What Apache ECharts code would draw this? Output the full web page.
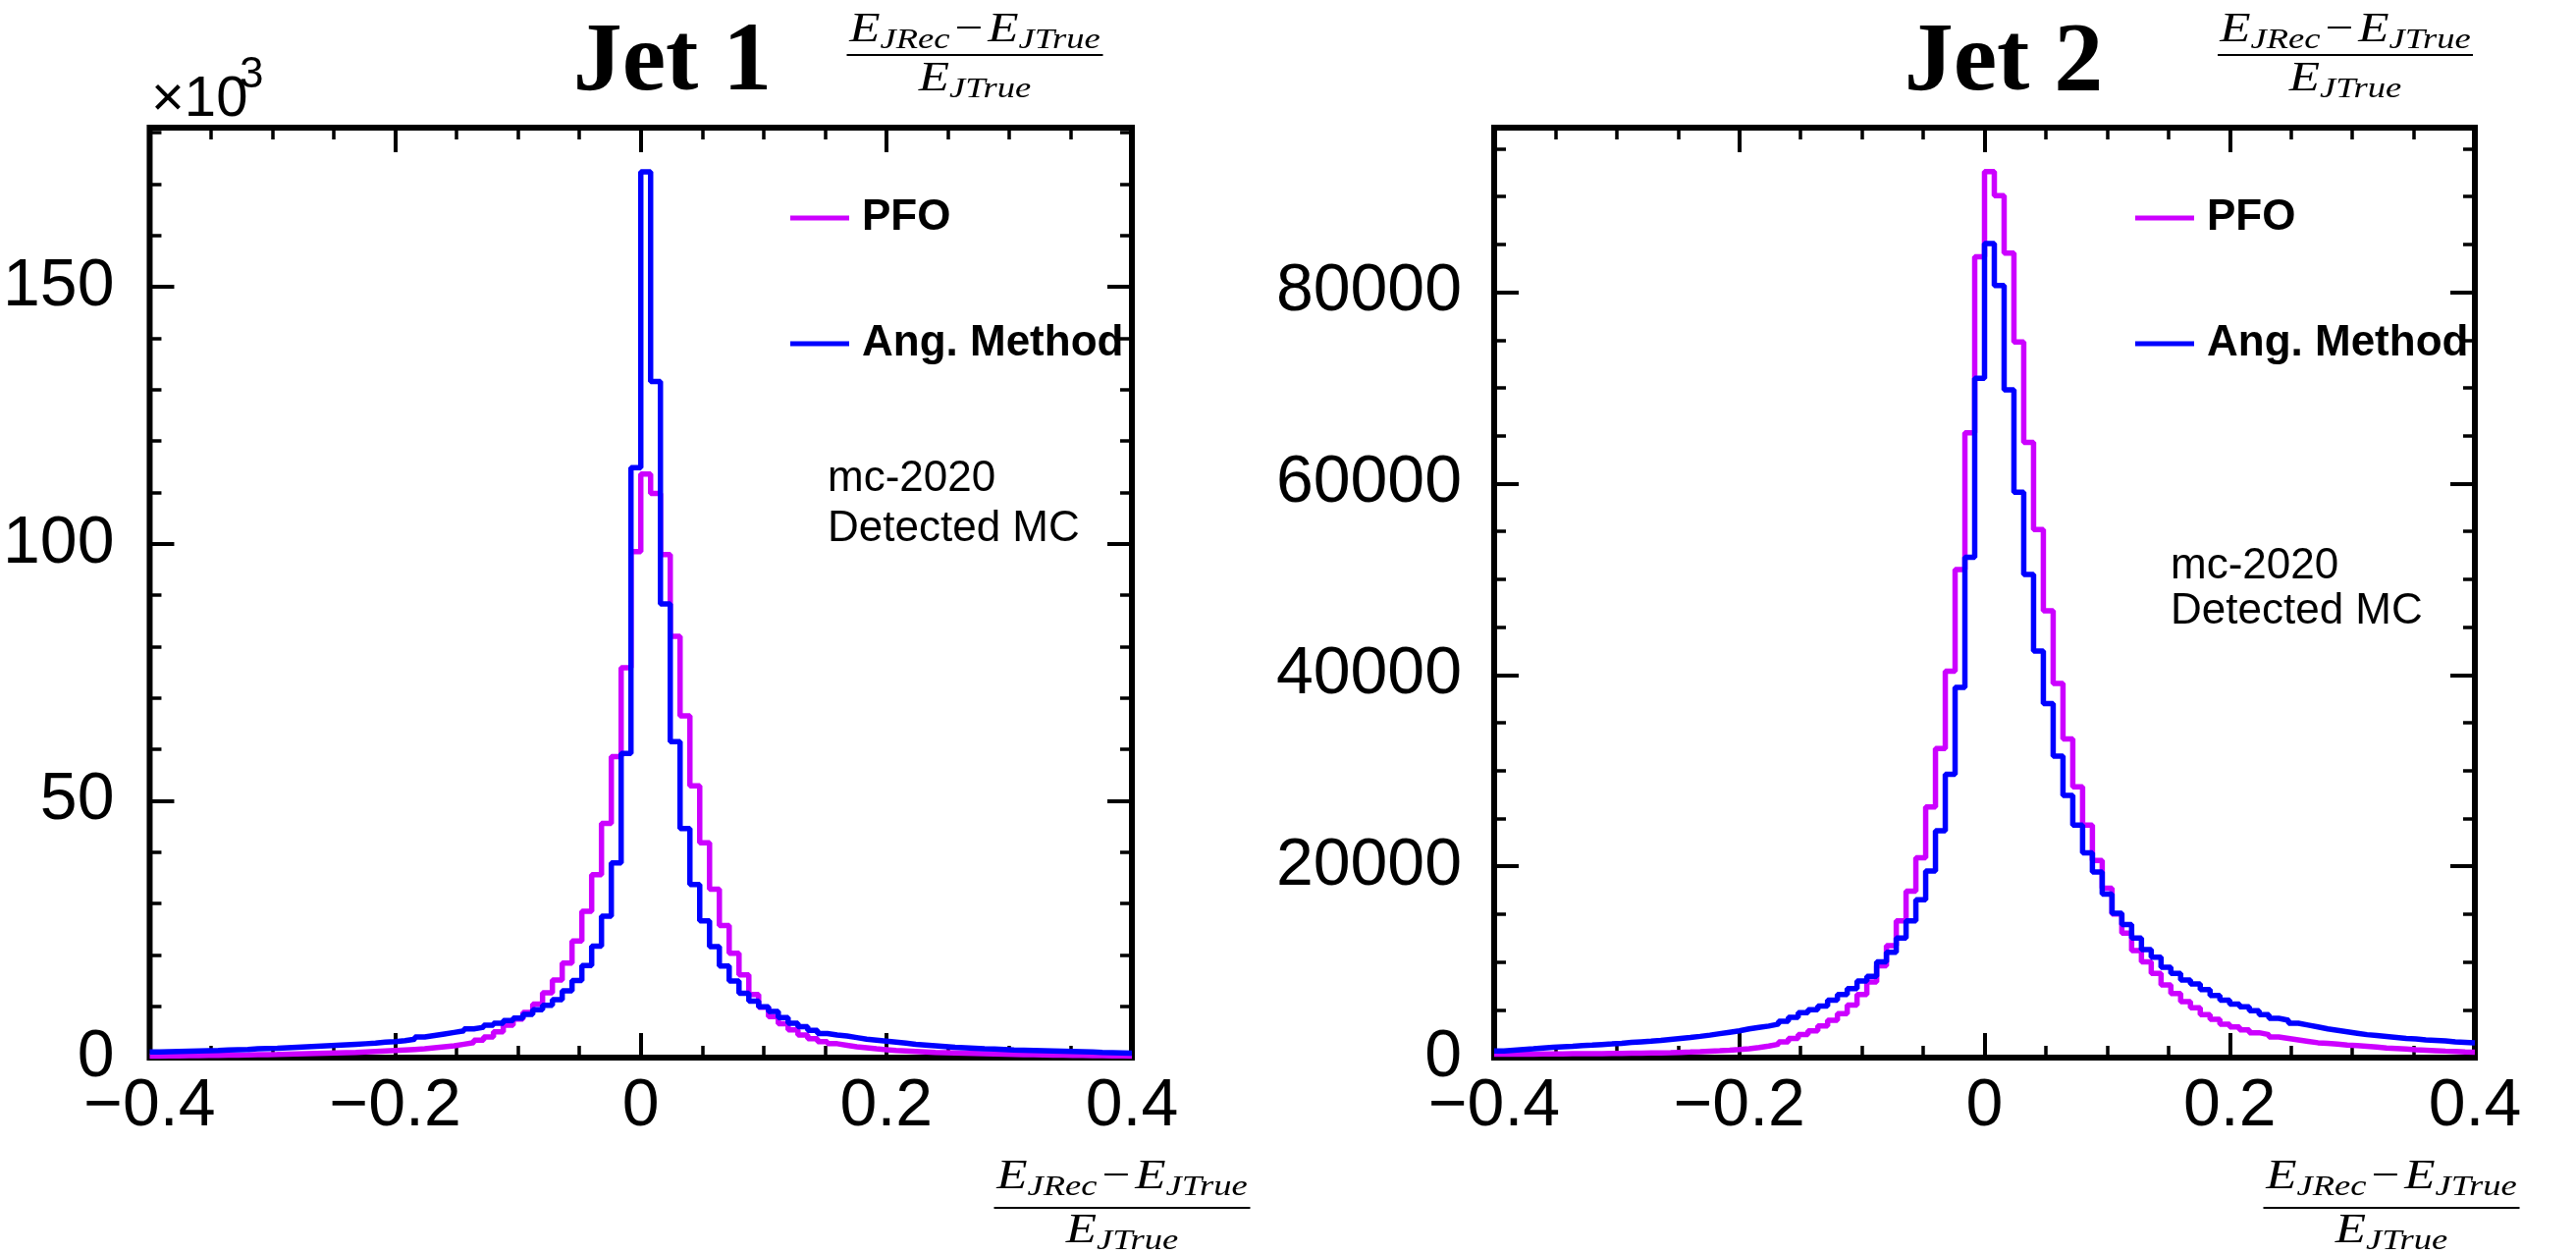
<!DOCTYPE html>
<html>
<head>
<meta charset="utf-8">
<script src="https://cdn.jsdelivr.net/npm/echarts@6/dist/echarts.min.js"></script>
<style>
  html, body { margin: 0; padding: 0; background: #fff; }
  #chart { width: 2624px; height: 1277px; }
</style>
</head>
<body>
<div id="chart"></div>
<script>
// histogram binning: 100 bins of 0.008 over [-0.4, 0.4]
const binLow = -0.4;
const binWidth = 0.008;

// Jet 1, entries in units of 10^3
const jet1PFO = [
  0.30, 0.33, 0.35, 0.38, 0.40, 0.43, 0.45, 0.48, 0.50, 0.52,
  0.55, 0.58, 0.60, 0.65, 0.70, 0.75, 0.80, 0.85, 0.90, 0.95,
  1.0, 1.1, 1.2, 1.3, 1.4, 1.5, 1.6, 1.7, 1.9, 2.1,
  2.3, 2.6, 2.9, 3.4, 4.0, 5.0, 6.3, 7.5, 8.8, 10.4,
  12.6, 15.1, 18.4, 22.7, 28.5, 35.6, 45.6, 58.6, 75.9, 98.5,
  113.6, 109.8, 97.9, 82.0, 66.5, 52.9, 41.8, 32.8, 25.7, 20.3,
  16.1, 12.3, 9.8, 8.0, 6.6, 5.4, 4.4, 3.7, 3.1, 2.7,
  2.4, 2.1, 1.9, 1.7, 1.55, 1.4, 1.3, 1.2, 1.1, 1.0,
  0.95, 0.9, 0.85, 0.8, 0.75, 0.7, 0.66, 0.62, 0.58, 0.55,
  0.52, 0.49, 0.46, 0.44, 0.42, 0.40, 0.38, 0.35, 0.33, 0.30
];
const jet1Ang = [
  1.10, 1.15, 1.20, 1.25, 1.30, 1.35, 1.40, 1.50, 1.55, 1.60,
  1.70, 1.75, 1.80, 1.90, 2.00, 2.10, 2.20, 2.30, 2.40, 2.50,
  2.60, 2.70, 2.80, 3.00, 3.10, 3.30, 3.60, 4.00, 4.30, 4.60,
  4.90, 5.20, 5.60, 5.90, 6.30, 6.70, 7.20, 7.70, 8.40, 9.30,
  10.2, 11.3, 13.0, 15.0, 17.9, 21.7, 27.5, 37.9, 59.2, 114.8,
  172.4, 131.6, 88.3, 61.5, 44.6, 33.7, 26.6, 21.6, 17.8, 14.9,
  12.5, 11.0, 9.9, 9.0, 7.8, 6.7, 6.0, 5.3, 4.7, 4.4,
  4.2, 3.9, 3.6, 3.4, 3.2, 3.0, 2.8, 2.6, 2.45, 2.3,
  2.15, 2.0, 1.9, 1.8, 1.7, 1.65, 1.6, 1.5, 1.45, 1.4,
  1.35, 1.3, 1.25, 1.2, 1.15, 1.1, 1.0, 0.95, 0.9, 0.85
];

// Jet 2, entries
const jet2PFO = [
  350, 350, 360, 370, 380, 380, 390, 400, 400, 410,
  420, 430, 440, 450, 460, 480, 500, 520, 550, 580,
  620, 670, 720, 780, 850, 930, 1050, 1200, 1400, 1650,
  2000, 2400, 2800, 3300, 3900, 4600, 5500, 6600, 7900, 9600,
  11700, 14300, 17400, 20900, 26200, 32300, 40400, 51000, 65300, 83700,
  92600, 90100, 84100, 74800, 64300, 55200, 46700, 39100, 33300, 28300,
  24300, 20600, 17700, 15000, 13000, 11200, 10000, 8800, 7600, 6700,
  5850, 5200, 4500, 4000, 3500, 3200, 2900, 2600, 2400, 2150,
  2000, 1850, 1700, 1550, 1480, 1400, 1320, 1250, 1180, 1100,
  1000, 950, 900, 830, 780, 730, 680, 640, 600, 570
];
const jet2Ang = [
  700, 780, 850, 920, 1000, 1070, 1130, 1180, 1250, 1300,
  1370, 1430, 1500, 1580, 1650, 1720, 1800, 1900, 2000, 2100,
  2220, 2350, 2500, 2650, 2800, 3000, 3150, 3300, 3500, 3800,
  4200, 4700, 5000, 5400, 6000, 6600, 7200, 8000, 8500, 10000,
  11000, 12500, 14300, 16500, 19500, 23700, 29600, 38700, 52300, 71000,
  85100, 80700, 69800, 59100, 50500, 42500, 37000, 31500, 27400, 24300,
  21400, 19400, 17100, 15100, 13900, 12500, 11300, 10500, 9450, 8800,
  8100, 7700, 7100, 6500, 6000, 5600, 5300, 4900, 4500, 4100,
  3900, 3600, 3400, 3200, 3000, 2850, 2700, 2550, 2400, 2300,
  2200, 2100, 2000, 1950, 1850, 1800, 1750, 1650, 1600, 1550
];

const seriesNames = ['PFO', 'Ang. Method'];
const colPFO = '#cc00ff';
const colAng = '#0000ff';

const xMin = -0.4, xMax = 0.4, xStep = 0.2;
const y1Max = 181, y1Step = 50;      // x10^3
const y2Max = 97200, y2Step = 20000;

const labelFont = 'Liberation Sans';
const mathFont = 'Liberation Serif';

// bin edges -> step points (last edge closes the final bin)
function histPoints(values) {
  const pts = values.map((v, i) => [binLow + i * binWidth, v]);
  pts.push([binLow + values.length * binWidth, values[values.length - 1]]);
  return pts;
}

const minus = (v) => String(v).replace('-', '\u2212');

function xAxisFor(gi, pos) {
  return {
    gridIndex: gi, type: 'value', position: pos,
    min: xMin, max: xMax, interval: xStep,
    axisLine: { show: false, onZero: false },
    axisTick: { inside: true, length: 25, lineStyle: { color: '#000', width: 4 } },
    minorTick: { show: true, splitNumber: 4, length: 12, lineStyle: { color: '#000', width: 3.5 } },
    axisLabel: {
      show: pos === 'bottom', formatter: minus, margin: 16,
      color: '#000', fontFamily: labelFont, fontSize: 68
    },
    splitLine: { show: false }
  };
}

function yAxisFor(gi, pos, max, step, split, margin) {
  return {
    gridIndex: gi, type: 'value', position: pos,
    min: 0, max: max, interval: step,
    axisLine: { show: false, onZero: false },
    axisTick: { inside: true, length: 25, lineStyle: { color: '#000', width: 4 } },
    minorTick: { show: true, splitNumber: split, length: 12, lineStyle: { color: '#000', width: 3.5 } },
    axisLabel: {
      show: pos === 'left', showMaxLabel: false, margin: margin,
      formatter: (v) => String(v),
      color: '#000', fontFamily: labelFont, fontSize: 68
    },
    splitLine: { show: false }
  };
}

function histSeries(name, values, color, xi, yi) {
  return {
    type: 'line', name: name, xAxisIndex: xi, yAxisIndex: yi,
    data: histPoints(values), step: 'end', symbol: 'none',
    color: color, lineStyle: { color: color, width: 5.5 },
    clip: true
  };
}

function legendAt(left) {
  return {
    left: left, top: 200, orient: 'vertical', padding: 0,
    itemWidth: 60, itemHeight: 5, itemGap: 84, icon: 'rect',
    data: seriesNames,
    textStyle: {
      fontFamily: labelFont, fontWeight: 'bold', fontSize: 44,
      color: '#000', lineHeight: 44, padding: [0, 0, 0, 8]
    }
  };
}

const mathRich = {
  e: { fontFamily: mathFont, fontStyle: 'italic', fontWeight: 'normal', fontSize: 42, lineHeight: 56 },
  s: { fontFamily: mathFont, fontStyle: 'italic', fontWeight: 'normal', fontSize: 30, lineHeight: 56, padding: [20, 0, 0, 0] },
  m: { fontFamily: mathFont, fontWeight: 'normal', fontSize: 42, lineHeight: 56, padding: [0, 4, 0, 4] }
};

// (E_JRec - E_JTrue) / E_JTrue drawn as a stretched fraction
function fraction(cx, barY, width, numY, denY, stretch) {
  const base = { fill: '#000', textAlign: 'center', textVerticalAlign: 'middle', rich: mathRich };
  return [
    { type: 'text', x: cx, y: numY, scaleX: stretch,
      style: Object.assign({ text: '{e|E}{s|JRec}{m|\u2212}{e|E}{s|JTrue}' }, base) },
    { type: 'line', shape: { x1: cx - width / 2, y1: barY, x2: cx + width / 2, y2: barY },
      style: { stroke: '#000', lineWidth: 2 } },
    { type: 'text', x: cx, y: denY, scaleX: stretch,
      style: Object.assign({ text: '{e|E}{s|JTrue}' }, base) }
  ];
}

function plainText(text, x, y, size, weight, family, align) {
  return { type: 'text', x: x, y: y,
    style: { text: text, fill: '#000', fontSize: size, fontWeight: weight || 'normal',
      fontFamily: family || labelFont, textAlign: align || 'left', textVerticalAlign: 'middle' } };
}

const chart = echarts.init(document.getElementById('chart'));

chart.setOption({
  animation: false,
  backgroundColor: '#fff',
  grid: [
    { left: 152, top: 130, width: 1001, height: 947, show: true, borderColor: '#000', borderWidth: 6 },
    { left: 1522, top: 130, width: 999, height: 947, show: true, borderColor: '#000', borderWidth: 6 }
  ],
  xAxis: [
    xAxisFor(0, 'bottom'), xAxisFor(0, 'top'),
    xAxisFor(1, 'bottom'), xAxisFor(1, 'top')
  ],
  yAxis: [
    yAxisFor(0, 'left', y1Max, y1Step, 5, 36), yAxisFor(0, 'right', y1Max, y1Step, 5, 36),
    yAxisFor(1, 'left', y2Max, y2Step, 4, 33), yAxisFor(1, 'right', y2Max, y2Step, 4, 33)
  ],
  legend: [legendAt(805), legendAt(2175)],
  series: [
    histSeries('PFO', jet1PFO, colPFO, 0, 0),
    histSeries('Ang. Method', jet1Ang, colAng, 0, 0),
    histSeries('PFO', jet2PFO, colPFO, 2, 2),
    histSeries('Ang. Method', jet2Ang, colAng, 2, 2)
  ],
  graphic: [
    plainText('Jet 1', 685, 65, 100, 'bold', mathFont, 'center'),
    plainText('Jet 2', 2041, 65, 100, 'bold', mathFont, 'center'),
    plainText('\u00d710', 154, 102, 58),
    plainText('3', 244, 77, 44),
    plainText('mc-2020', 843, 488, 44),
    plainText('Detected MC', 843, 539, 44),
    plainText('mc-2020', 2211, 577, 44),
    plainText('Detected MC', 2211, 623, 44)
  ].concat(
    fraction(993, 56, 261, 31, 81, 1.22),
    fraction(2389, 56, 260, 31, 81, 1.22),
    fraction(1143, 1230, 261, 1199, 1254, 1.22),
    fraction(2436, 1230, 261, 1199, 1254, 1.22)
  )
});
</script>
</body>
</html>
